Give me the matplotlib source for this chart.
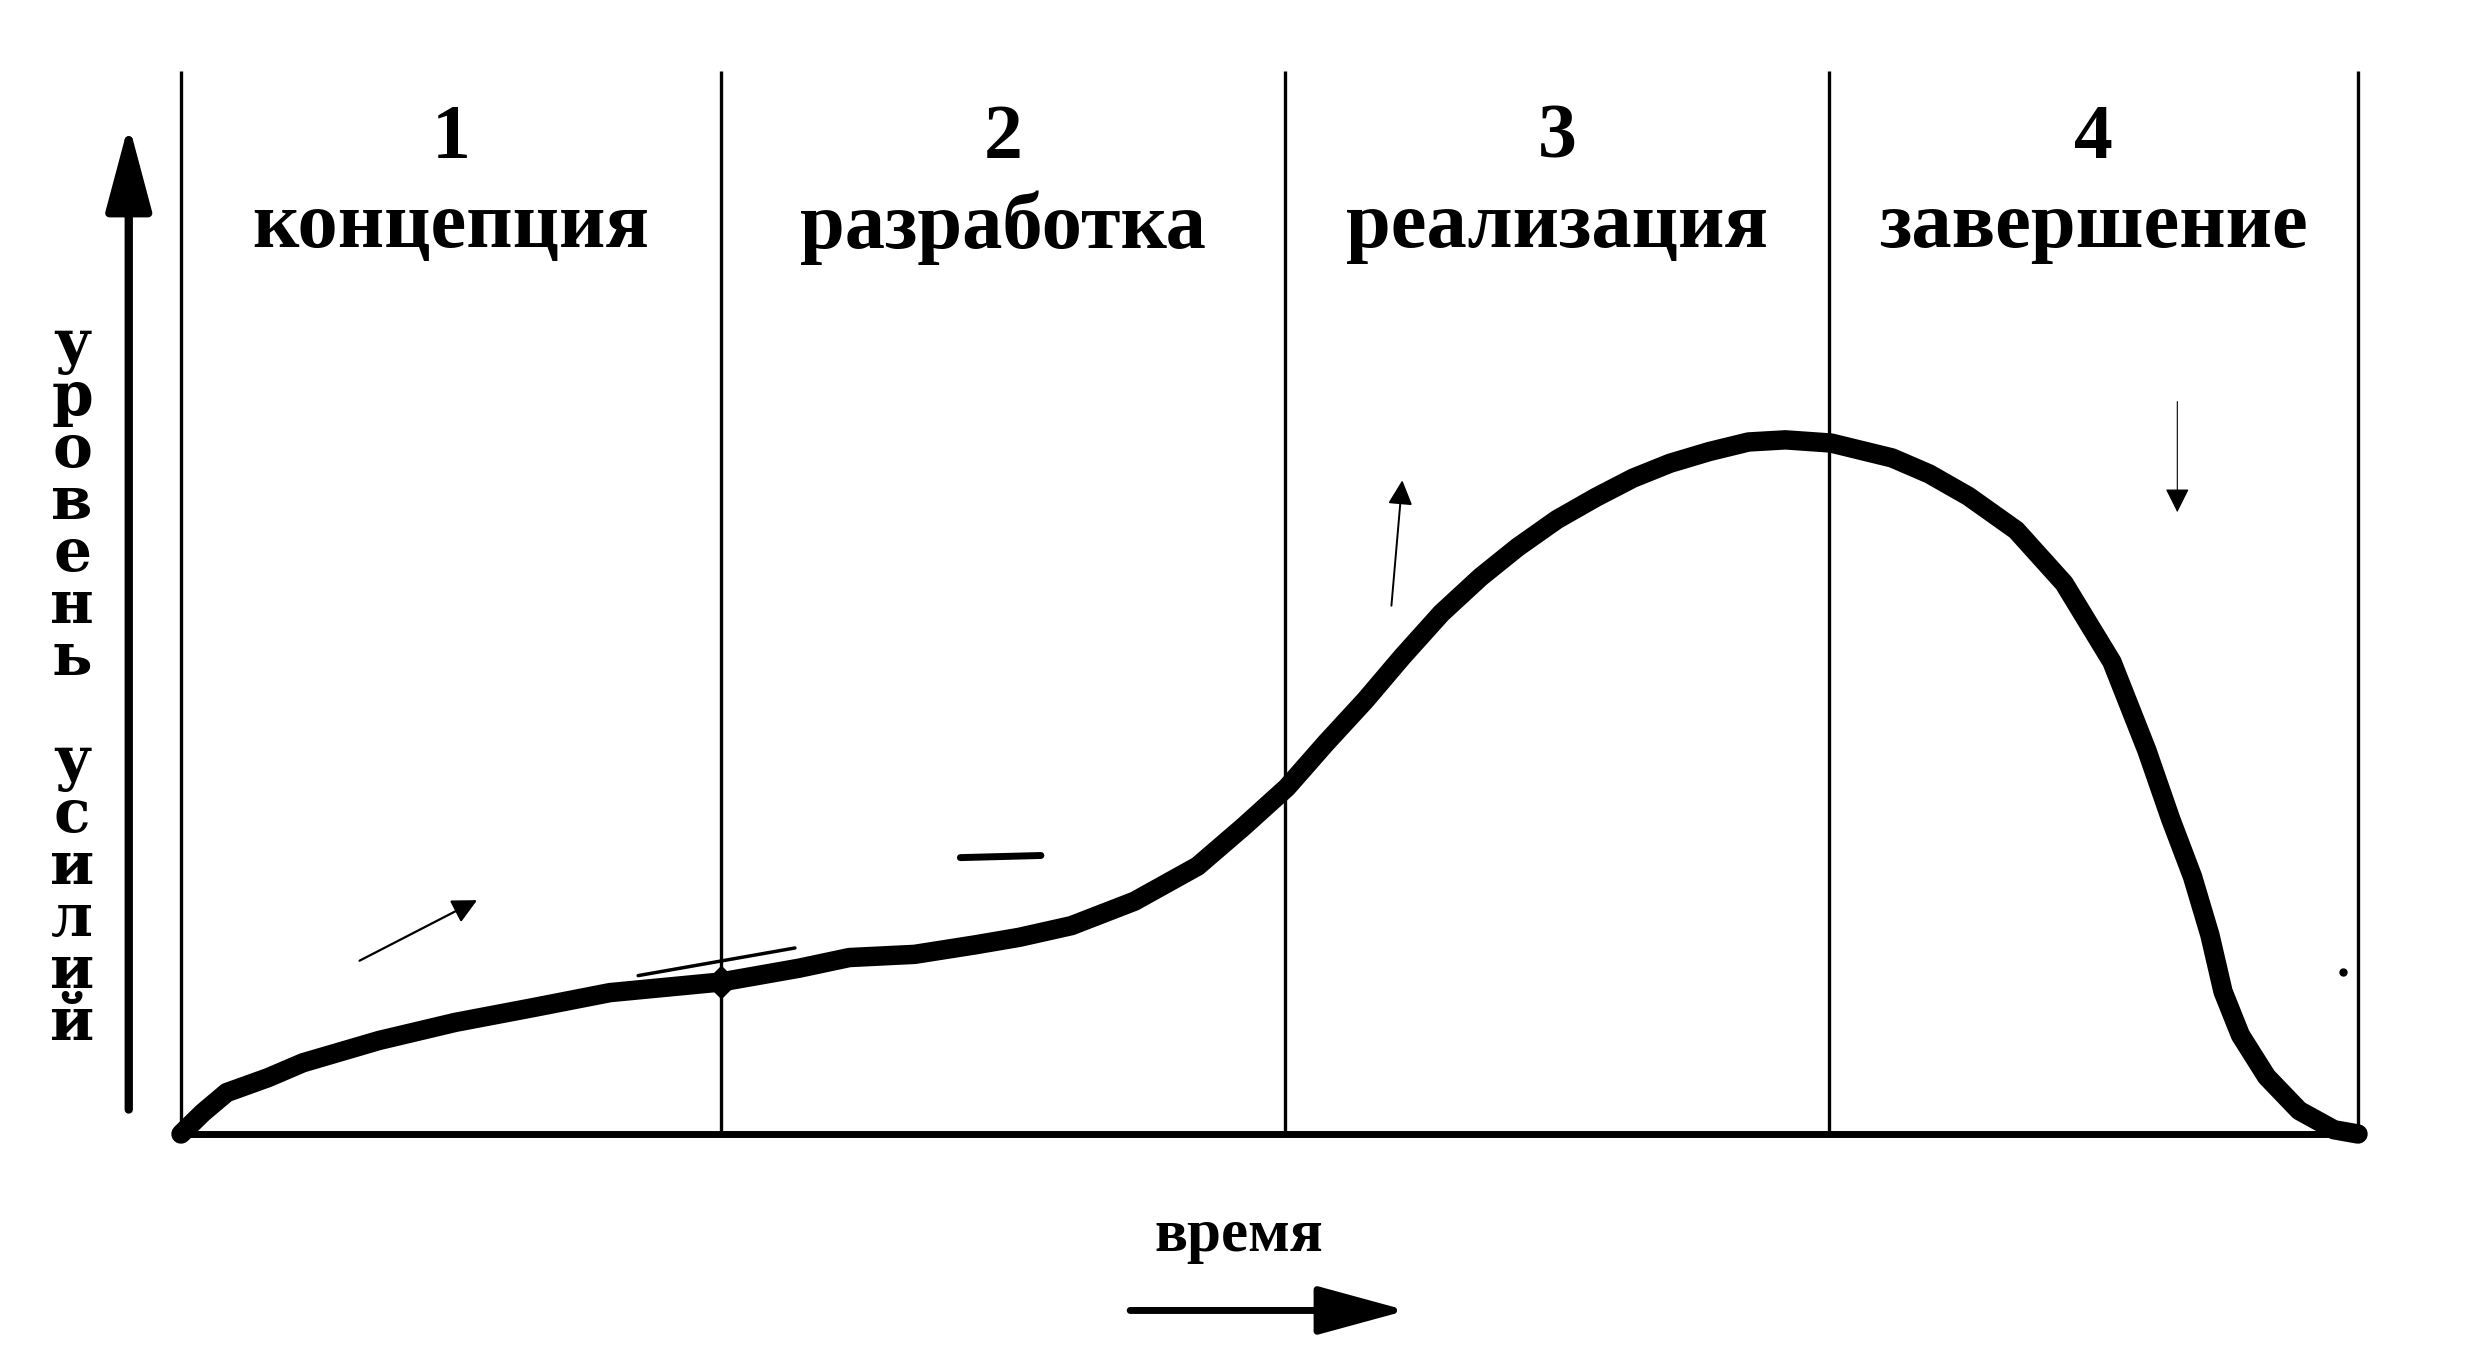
import matplotlib.pyplot as plt

# phase boundaries along the time axis (0..100)
phase_edges = [0, 24.8, 50.7, 75.7, 100]
phase_nums = ["1", "2", "3", "4"]
phase_names = ["концепция", "разработка", "реализация", "завершение"]

# effort curve
t = [0, 1.0, 2.1, 4.0, 5.6, 9.1, 12.6, 16.2, 19.7, 24.8, 28.4, 30.7, 33.7, 36.5,
     38.5, 40.9, 43.8, 46.7, 48.8, 50.8, 52.6, 54.4, 56.1, 57.9, 59.7, 61.4,
     63.2, 65.0, 66.7, 68.4, 70.2, 72.0, 73.7, 75.8, 78.6, 80.3, 82.1, 84.3, 86.5,
     88.7, 90.3, 91.4, 92.4, 93.2, 93.8, 94.6, 95.8, 97.3, 98.9, 100]
effort = [0, 2.0, 3.9, 5.3, 6.7, 8.8, 10.5, 11.9, 13.3, 14.3, 15.6, 16.6, 16.9, 17.8,
          18.5, 19.6, 21.9, 25.2, 28.9, 32.6, 36.8, 40.8, 44.9, 49.0, 52.4, 55.2,
          57.8, 59.9, 61.7, 63.1, 64.2, 65.1, 65.3, 65.0, 63.6, 62.1, 60.0, 56.8, 51.8,
          44.4, 36.1, 29.6, 24.2, 18.7, 13.4, 9.3, 5.4, 2.2, 0.4, 0]

# hand-drawn pencil marks on the scan: (x0, y0, x1, y1, lw, style)
pencil_marks = [
    (8.2, 16.3, 13.6, 22.0, 1.6, "-|>"),
    (21.0, 14.9, 28.2, 17.5, 2.5, "-"),
    (35.8, 26.0, 39.5, 26.2, 5.0, "-"),
    (55.6, 49.7, 56.1, 61.5, 1.4, "-|>"),
    (91.7, 68.9, 91.7, 58.5, 0.8, "-|>"),
]

W, H = 2470, 1352
fig = plt.figure(figsize=(W / 100, H / 100), dpi=100)
ax = fig.add_axes([181 / W, (H - 1134) / H, 2177 / W, 1063 / H])
ax.set_xlim(0, 100)
ax.set_ylim(0, 100)
ax.axis("off")

# frame: phase separators and time baseline
ax.vlines(phase_edges, 0, 100, color="black", lw=2.4, clip_on=False)
ax.hlines(0, 0, 100, color="black", lw=5, clip_on=False)

# effort curve
ax.plot(t, effort, color="black", lw=14, solid_capstyle="round",
        solid_joinstyle="round", clip_on=False, zorder=3)

# phase headings
serif = ["Liberation Serif", "DejaVu Serif"]
for i in range(4):
    xc = (phase_edges[i] + phase_edges[i + 1]) / 2
    ax.text(xc, 93.6, phase_nums[i], ha="center", va="center", fontsize=56,
            fontweight="bold", family=serif)
    ax.text(xc, 85.3, phase_names[i], ha="center", va="center", fontsize=58,
            fontweight="bold", family=serif)

# vertical axis arrow and label
ax.annotate("", xy=(-2.4, 95.0), xytext=(-2.4, 2.3),
            arrowprops=dict(arrowstyle="-|>,head_length=1.05,head_width=0.28",
                            mutation_scale=50, lw=6, color="black",
                            shrinkA=0, shrinkB=0),
            annotation_clip=False)
ax.text(-5.0, 42.3, "\n".join("уровень усилий"), ha="center", va="center",
        fontsize=43, fontweight="bold", family=["DejaVu Serif"],
        linespacing=0.87, multialignment="center")

# time label and arrow
ax.text(48.6, -9.6, "время", ha="center", va="center", fontsize=44,
        fontweight="bold", family=serif)
ax.annotate("", xy=(56.3, -16.6), xytext=(43.6, -16.6),
            arrowprops=dict(arrowstyle="-|>,head_length=1.1,head_width=0.3",
                            mutation_scale=50, lw=5, color="black",
                            shrinkA=0, shrinkB=0),
            annotation_clip=False)

# pencil marks
for x0, y0, x1, y1, lw, style in pencil_marks:
    head = ",head_length=0.5,head_width=0.25" if style != "-" else ""
    ax.annotate("", xy=(x1, y1), xytext=(x0, y0),
                arrowprops=dict(arrowstyle=style + head, mutation_scale=30,
                                lw=lw, color="black", shrinkA=0, shrinkB=0))
ax.plot([24.8], [14.3], marker="D", ms=16, color="black", zorder=4)
ax.plot([99.3], [15.2], marker="o", ms=5, color="black")

fig.savefig("out.png", dpi=100, facecolor="white")
